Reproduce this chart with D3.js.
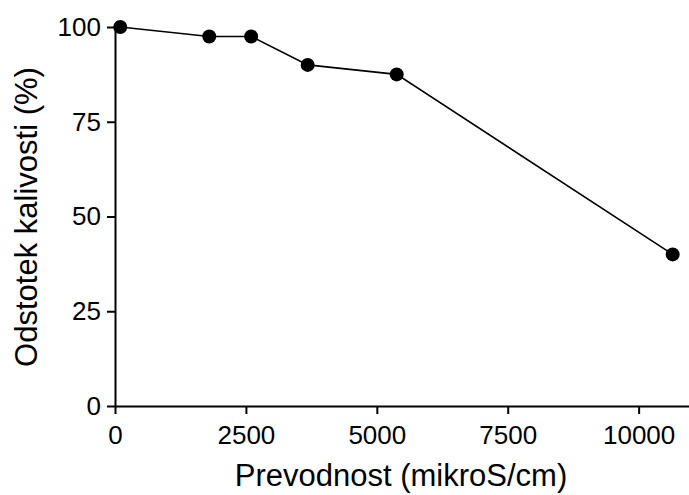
<!DOCTYPE html>
<html>
<head>
<meta charset="utf-8">
<script src="https://cdn.jsdelivr.net/npm/d3@7"></script>
<style>
  body { margin: 0; background: #fff; }
  svg { display: block; font-family: "Liberation Sans", Arial, sans-serif; }
  .axis path, .axis line { stroke: #000; stroke-width: 2; }
  .axis text { font-size: 26px; fill: #000; }
  .title { font-size: 31px; fill: #000; }
</style>
</head>
<body>
<div id="chart"></div>
<script>
// conductivity (microS/cm) vs germination (%)
const conductivity = [100, 1800, 2600, 3680, 5380, 10650];
const germination = [100, 97.5, 97.5, 90, 87.5, 40];
const xTicks = [0, 2500, 5000, 7500, 10000];
const yTicks = [0, 25, 50, 75, 100];

const width = 689, height = 495;
const margin = {top: 27, right: -2, bottom: 89, left: 115};

const svg = d3.select("#chart").append("svg")
    .attr("width", width)
    .attr("height", height);

const x = d3.scaleLinear().domain([0, 11000]).range([margin.left, width - margin.right]);
const y = d3.scaleLinear().domain([0, 100]).range([height - margin.bottom, margin.top]);

// axes
svg.append("g")
    .attr("class", "axis")
    .attr("transform", "translate(0," + (height - margin.bottom) + ")")
    .call(d3.axisBottom(x).tickValues(xTicks).tickFormat(d3.format("d"))
      .tickSize(8).tickPadding(12).tickSizeOuter(0));

svg.append("g")
    .attr("class", "axis")
    .attr("transform", "translate(" + margin.left + ",0)")
    .call(d3.axisLeft(y).tickValues(yTicks).tickSize(8).tickPadding(6).tickSizeOuter(0));

const data = conductivity.map((c, i) => ({x: c, y: germination[i]}));

const line = d3.line()
    .x(d => x(d.x))
    .y(d => y(d.y));

svg.append("path")
    .datum(data)
    .attr("fill", "none")
    .attr("stroke", "#000")
    .attr("stroke-width", 1.6)
    .attr("d", line);

svg.selectAll("circle.pt")
    .data(data)
  .enter().append("circle")
    .attr("class", "pt")
    .attr("cx", d => x(d.x))
    .attr("cy", d => y(d.y))
    .attr("r", 7)
    .attr("fill", "#000");

// axis titles
svg.append("text")
    .attr("class", "title")
    .attr("x", 401)
    .attr("y", 486)
    .attr("text-anchor", "middle")
    .text("Prevodnost (mikroS/cm)");

svg.append("text")
    .attr("class", "title")
    .attr("transform", "translate(37,217) rotate(-90)")
    .attr("text-anchor", "middle")
    .text("Odstotek kalivosti (%)");
</script>
</body>
</html>
